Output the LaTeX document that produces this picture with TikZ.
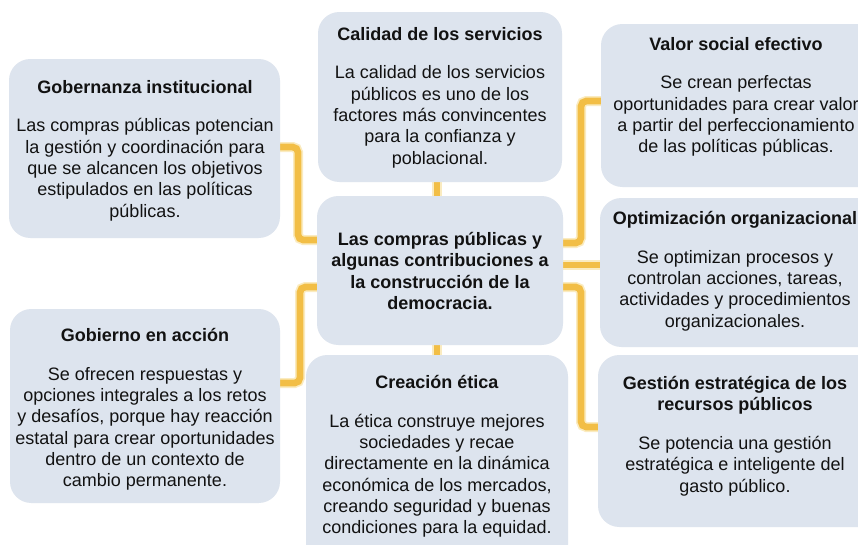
\documentclass[tikz,border=0pt]{standalone}
\usepackage{fontspec}
\setmainfont{Liberation Sans}
\usetikzlibrary{calc}
\definecolor{boxfill}{RGB}{221,228,238}
\definecolor{gold}{RGB}{242,190,70}
\definecolor{goldglow}{RGB}{248,222,150}
\begin{document}
\begin{tikzpicture}[x=0.75pt,y=-0.75pt,
  box/.style={fill=boxfill,rounded corners=16pt},
  txt/.style={align=center,inner sep=0pt,anchor=north,text=black!93,
    font=\fontsize{13.5}{16}\selectfont},
  glow/.style={draw=goldglow,line width=7.5pt,rounded corners=4pt,opacity=0.6},
  conn/.style={draw=gold,line width=5pt,rounded corners=4pt}]
\useasboundingbox (0,0) rectangle (858,544);
\clip (0,0) rectangle (858,544);
\fill[white] (0,0) rectangle (858,544);
% anchor coordinates on box edges
\coordinate (gobE) at (280,147);
\coordinate (govE) at (280,383);
\coordinate (cenW1) at (317,240);
\coordinate (cenW2) at (317,287);
\coordinate (cenE1) at (563,243);
\coordinate (cenE0) at (563,265);
\coordinate (cenE2) at (563,287);
\coordinate (valW) at (601,101);
\coordinate (optW) at (600,265);
\coordinate (gesW) at (598,427);
\coordinate (calS) at (437,182);
\coordinate (cenN) at (437,196);
\coordinate (cenS) at (437,345);
\coordinate (creN) at (437,355);
% connectors
\foreach \s in {glow,conn}{
  \draw[\s] (gobE) -- (298,147) -- (298,240) -- (cenW1);
  \draw[\s] (govE) -- (300,383) -- (300,287) -- (cenW2);
  \draw[\s] (cenE1) -- (581,243) -- (581,101) -- (valW);
  \draw[\s] (cenE0) -- (optW);
  \draw[\s] (cenE2) -- (581,287) -- (581,427) -- (gesW);
  \draw[\s] (calS) -- (cenN);
  \draw[\s] (cenS) -- (creN);
}
% boxes
\fill[box] (9,59) rectangle (280,238);
\fill[box] (318,12) rectangle (562,182);
\fill[box] (317,196) rectangle (563,345);
\fill[box] (601,24) rectangle (880,187);
\fill[box] (600,198) rectangle (880,347);
\fill[box] (598,355) rectangle (880,527);
\fill[box] (10,309) rectangle (280,503);
\fill[box] (306,355) rectangle (568,580);
% texts
\node[txt] (gobT) at (145,80) {\textbf{Gobernanza institucional}\\[13pt]
  Las compras públicas potencian\\ la gestión y coordinación para\\
  que se alcancen los objetivos\\ estipulados en las políticas\\ públicas.};
\node[txt] (calT) at (440,27) {\textbf{Calidad de los servicios}\\[13pt]
  La calidad de los servicios\\ públicos es uno de los\\
  factores más convincentes\\ para la confianza y\\ poblacional.};
\node[txt,font=\fontsize{13.5}{16}\selectfont\bfseries] (cenT) at (440,232)
  {Las compras públicas y\\ algunas contribuciones a\\ la construcción de la\\ democracia.};
\node[txt] (valT) at (736,37) {\textbf{Valor social efectivo}\\[13pt]
  Se crean perfectas\\ oportunidades para crear valor\\
  a partir del perfeccionamiento\\ de las políticas públicas.};
\node[txt] (optT) at (735,211) {\textbf{Optimización organizacional}\\[13pt]
  Se optimizan procesos y\\ controlan acciones, tareas,\\
  actividades y procedimientos\\ organizacionales.};
\node[txt] (gesT) at (735,376) {\textbf{Gestión estratégica de los}\\
  \textbf{recursos públicos}\\[13pt]
  Se potencia una gestión\\ estratégica e inteligente del\\ gasto público.};
\node[txt] (govT) at (145,328) {\textbf{Gobierno en acción}\\[13pt]
  Se ofrecen respuestas y\\ opciones integrales a los retos\\
  y desafíos, porque hay reacción\\ estatal para crear oportunidades\\
  dentro de un contexto de\\ cambio permanente.};
\node[txt] (creT) at (437,375) {\textbf{Creación ética}\\[13pt]
  La ética construye mejores\\ sociedades y recae\\
  directamente en la dinámica\\ económica de los mercados,\\
  creando seguridad y buenas\\ condiciones para la equidad.};
\end{tikzpicture}
\end{document}
